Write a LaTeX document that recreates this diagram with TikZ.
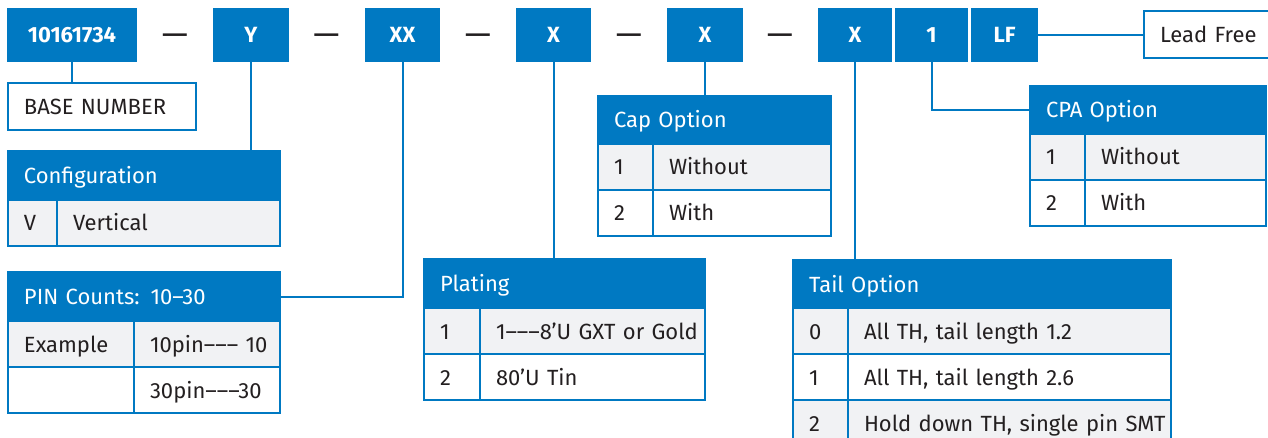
\documentclass[tikz,border=0pt]{standalone}
\usepackage{fontspec}
\setmainfont{Fira Sans}[Ligatures=TeXOff]
\usetikzlibrary{calc,positioning}
\usepackage{xcolor}

\definecolor{pnblue}{HTML}{0079C2}
\definecolor{rowgray}{HTML}{F1F2F4}
\definecolor{ink}{HTML}{231F20}
\newcommand{\cellfont}{\fontsize{22}{26}\selectfont}

\tikzset{
    code/.style={fill=pnblue, text=white, font=\cellfont\bfseries, minimum height=54pt, inner sep=0pt},
    dashmark/.style={anchor=base, text=ink, inner sep=0pt, font=\fontsize{33}{36}\selectfont},
    tabcell/.style={anchor=north west, draw=pnblue, line width=2pt, text=ink, minimum height=46pt,
        inner xsep=0pt, inner ysep=0pt, text width=#1, align=left, font=\cellfont,
        execute at begin node={\hspace*{16pt}\vrule height 21pt depth 5pt width 0pt}},
    tabhead/.style={tabcell=#1, fill=pnblue, text=white, minimum height=48pt},
    link/.style={draw=pnblue, line width=2pt},
}

\begin{document}
\begin{tikzpicture}[x=1pt, y=-1pt]
        \useasboundingbox (0,0) rectangle (1268,438);
        \clip (0,0) rectangle (1268,438);

        % part number
        \node[code, minimum width=130pt] (base) at (72,35) {10161734};
        \node[code, minimum width=76pt] (y) at (251,35) {Y};
        \node[code, minimum width=75pt] (xx) at (402.5,35) {XX};
        \node[code, minimum width=75pt] (platx) at (553.5,35) {X};
        \node[code, minimum width=76pt] (capx) at (705,35) {X};
        \node[code, minimum width=74pt] (tailx) at (855,35) {X};
        \node[code, minimum width=73pt] (cpax) at (931.5,35) {1};
        \node[code, minimum width=67pt] (lf) at (1004.5,35) {LF};

        \node[dashmark] (d1) at (175,46) {—};
        \node[dashmark] (d2) at (326.5,46) {—};
        \node[dashmark] (d3) at (478,46) {—};
        \node[dashmark] (d4) at (629,46) {—};
        \node[dashmark] (d5) at (780,46) {—};

        \node[tabcell=125pt, minimum height=47pt] (free) at (1143,10) {Lead Free};
        \node[tabcell=188pt, minimum height=47pt] (basename) at (7,82) {BASE NUMBER};

        % configuration
        \node[tabhead=272pt, minimum height=49pt] (conf) at (7,150) {Configuration};
        \node[tabcell=49pt, fill=rowgray] (confk) at (7,199) {V};
        \node[tabcell=223pt, fill=rowgray] (confv) at (56,199) {Vertical};

        % pin counts
        \node[tabhead=272pt, minimum height=49pt] (pin) at (7,271) {PIN Counts: 10–30};
        \node[tabcell=126pt, fill=rowgray] (pinka) at (7,320) {Example};
        \node[tabcell=146pt, fill=rowgray] (pinva) at (133,320) {10pin–––~10};
        \node[tabcell=126pt] (pinkb) at (7,366) {};
        \node[tabcell=146pt] (pinvb) at (133,366) {30pin–––30};

        % plating
        \node[tabhead=281pt, minimum height=49pt] (plate) at (423,258) {Plating};
        \node[tabcell=56pt, fill=rowgray] (platka) at (423,307) {1};
        \node[tabcell=225pt, fill=rowgray] (platva) at (479,307) {1–––8’U GXT or Gold};
        \node[tabcell=56pt] (platkb) at (423,353) {2};
        \node[tabcell=225pt] (platvb) at (479,353) {80’U Tin};

        % cap
        \node[tabhead=233pt] (cap) at (597,95) {Cap Option};
        \node[tabcell=55pt, fill=rowgray] (capka) at (597,143) {1};
        \node[tabcell=178pt, fill=rowgray] (capva) at (652,143) {Without};
        \node[tabcell=55pt] (capkb) at (597,189) {2};
        \node[tabcell=178pt] (capvb) at (652,189) {With};

        % tail
        \node[tabhead=378pt] (tail) at (792,259) {Tail Option};
        \node[tabcell=55pt, fill=rowgray] (tailka) at (792,307) {0};
        \node[tabcell=323pt, fill=rowgray] (tailva) at (847,307) {All TH, tail length 1.2};
        \node[tabcell=55pt] (tailkb) at (792,353) {1};
        \node[tabcell=323pt] (tailvb) at (847,353) {All TH, tail length 2.6};
        \node[tabcell=55pt, fill=rowgray] (tailkc) at (792,399) {2};
        \node[tabcell=323pt, fill=rowgray] (tailvc) at (847,399) {Hold down TH, single pin SMT};

        % cpa
        \node[tabhead=236pt] (cpa) at (1029,85) {CPA Option};
        \node[tabcell=55pt, fill=rowgray] (cpaka) at (1029,133) {1};
        \node[tabcell=181pt, fill=rowgray] (cpava) at (1084,133) {Without};
        \node[tabcell=55pt] (cpakb) at (1029,179) {2};
        \node[tabcell=181pt] (cpavb) at (1084,179) {With};

        \draw[link] (base.south) -- (base.south |- basename.north);
        \draw[link] (y.south) -- (y.south |- conf.north);
        \draw[link] (xx.south) |- (pin.east);
        \draw[link] (platx.south) -- (platx.south |- plate.north);
        \draw[link] (capx.south) -- (capx.south |- cap.north);
        \draw[link] (tailx.south) -- (tailx.south |- tail.north);
        \draw[link] (cpax.south) |- (cpa.west);
        \draw[link] (lf.east) -- (lf.east -| free.west);
    \end{tikzpicture}
\end{document}
